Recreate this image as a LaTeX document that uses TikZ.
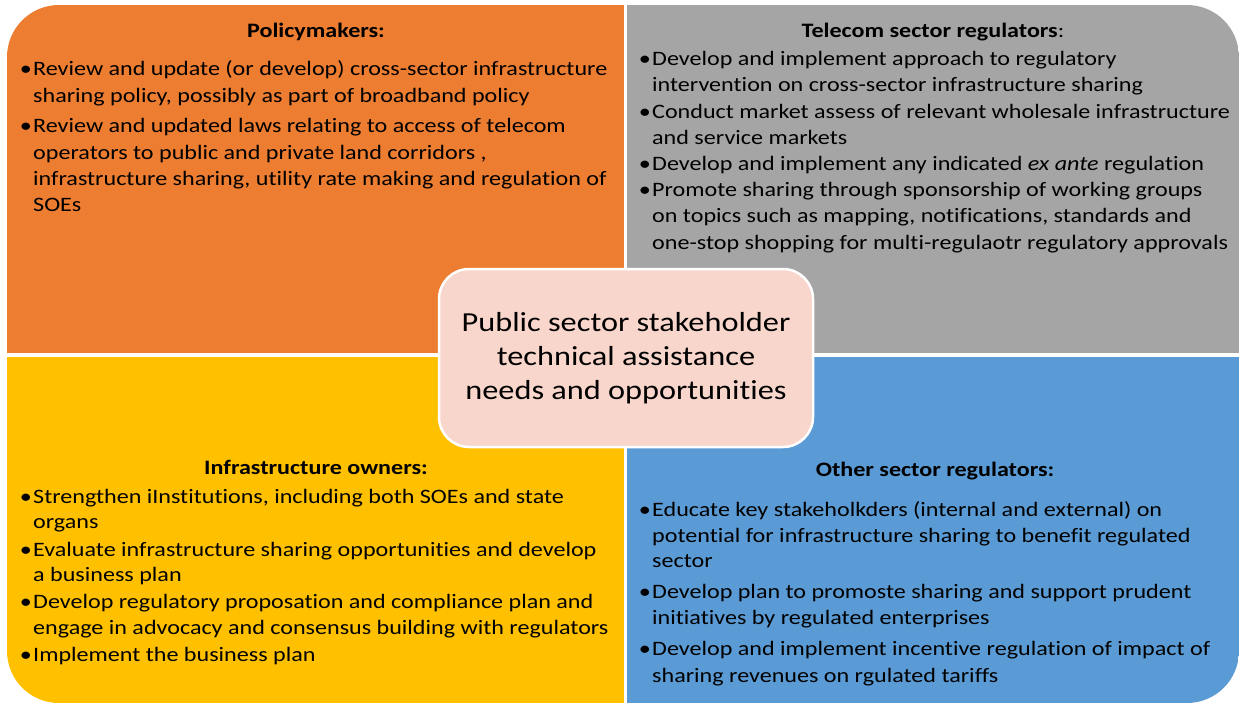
\documentclass[tikz,border=0pt]{standalone}
\usepackage{fontspec}
\setmainfont{Carlito}[FakeStretch=1.175, Ligatures={NoCommon}]
\definecolor{cOrange}{HTML}{ED7D31}
\definecolor{cGray}{HTML}{A5A5A5}
\definecolor{cYellow}{HTML}{FFC000}
\definecolor{cBlue}{HTML}{5B9BD5}
\definecolor{cPink}{HTML}{F8D6CB}
\newcommand{\bodyfont}{\fontsize{20.5}{26}\selectfont}
\begin{document}
\begin{tikzpicture}[x=1pt,y=-1pt,
  ln/.style={anchor=base west, inner sep=0pt, font=\bodyfont},
  bul/.style={anchor=base east, inner sep=0pt, font=\bodyfont, xshift=-1pt},
  head/.style={anchor=base, inner sep=0pt, font=\bodyfont\bfseries},
  centerbox/.style={draw=white, line width=2.5pt, fill=cPink, rounded corners=30pt,
     minimum width=374pt, minimum height=178pt, align=center,
     font=\fontsize{27.5}{34}\selectfont}]
\useasboundingbox (0,0) rectangle (1239,704);
\begin{scope}
\clip[rounded corners=52pt] (7,5) rectangle (1239,703);
\fill[cOrange] (7,5) rectangle (624,353);
\fill[cGray] (627,5) rectangle (1239,353);
\fill[cYellow] (7,357) rectangle (624,703);
\fill[cBlue] (627,357) rectangle (1239,703);
\end{scope}

% Policymakers
\node[head] (hp) at (316,37) {Policymakers:};
\node[ln] (p1) at (33,75) {Review and update (or develop) cross-sector infrastructure};
\node[bul] (bp1) at (p1.base west) {•};
\node[ln] (p2) at (33,102) {sharing policy, possibly as part of broadband policy};
\node[ln] (p3) at (33,132) {Review and updated laws relating to access of telecom};
\node[bul] (bp3) at (p3.base west) {•};
\node[ln] (p4) at (33,159) {operators to public and private land corridors ,};
\node[ln] (p5) at (33,185) {infrastructure sharing, utility rate making and regulation of};
\node[ln] (p6) at (33,211) {SOEs};

% Telecom
\node[head] (ht) at (933,37) {Telecom sector regulators\mdseries:};
\node[ln] (t1) at (652,65) {Develop and implement approach to regulatory};
\node[bul] (bt1) at (t1.base west) {•};
\node[ln] (t2) at (652,91) {intervention on cross-sector infrastructure sharing};
\node[ln] (t3) at (652,118) {Conduct market assess of relevant wholesale infrastructure};
\node[bul] (bt3) at (t3.base west) {•};
\node[ln] (t4) at (652,144) {and service markets};
\node[ln] (t5) at (652,170) {Develop and implement any indicated \textit{ex ante} regulation};
\node[bul] (bt5) at (t5.base west) {•};
\node[ln] (t6) at (652,196) {Promote sharing through sponsorship of working groups};
\node[bul] (bt6) at (t6.base west) {•};
\node[ln] (t7) at (652,222) {on topics such as mapping, notifications, standards and};
\node[ln] (t8) at (652,249) {one-stop shopping for multi-regulaotr regulatory approvals};

% Infrastructure owners
\node[head] (hi) at (316,474) {Infrastructure owners:};
\node[ln] (i1) at (33,503) {Strengthen iInstitutions, including both SOEs and state};
\node[bul] (bi1) at (i1.base west) {•};
\node[ln] (i2) at (33,528) {organs};
\node[ln] (i3) at (33,556) {Evaluate infrastructure sharing opportunities and develop};
\node[bul] (bi3) at (i3.base west) {•};
\node[ln] (i4) at (33,581) {a business plan};
\node[ln] (i5) at (33,608) {Develop regulatory proposation and compliance plan and};
\node[bul] (bi5) at (i5.base west) {•};
\node[ln] (i6) at (33,634) {engage in advocacy and consensus building with regulators};
\node[ln] (i7) at (33,661) {Implement the business plan};
\node[bul] (bi7) at (i7.base west) {•};

% Other sector regulators
\node[head] (ho) at (935,476) {Other sector regulators:};
\node[ln] (o1) at (652,516) {Educate key stakeholkders (internal and external) on};
\node[bul] (bo1) at (o1.base west) {•};
\node[ln] (o2) at (652,542) {potential for infrastructure sharing to benefit regulated};
\node[ln] (o3) at (652,567) {sector};
\node[ln] (o4) at (652,598) {Develop plan to promoste sharing and support prudent};
\node[bul] (bo4) at (o4.base west) {•};
\node[ln] (o5) at (652,624) {initiatives by regulated enterprises};
\node[ln] (o6) at (652,655) {Develop and implement incentive regulation of impact of};
\node[bul] (bo6) at (o6.base west) {•};
\node[ln] (o7) at (652,682) {sharing revenues on rgulated tariffs};

% Center
\node[centerbox] (c) at (626,358) {Public sector stakeholder\\technical assistance\\needs and opportunities};
\end{tikzpicture}
\end{document}
